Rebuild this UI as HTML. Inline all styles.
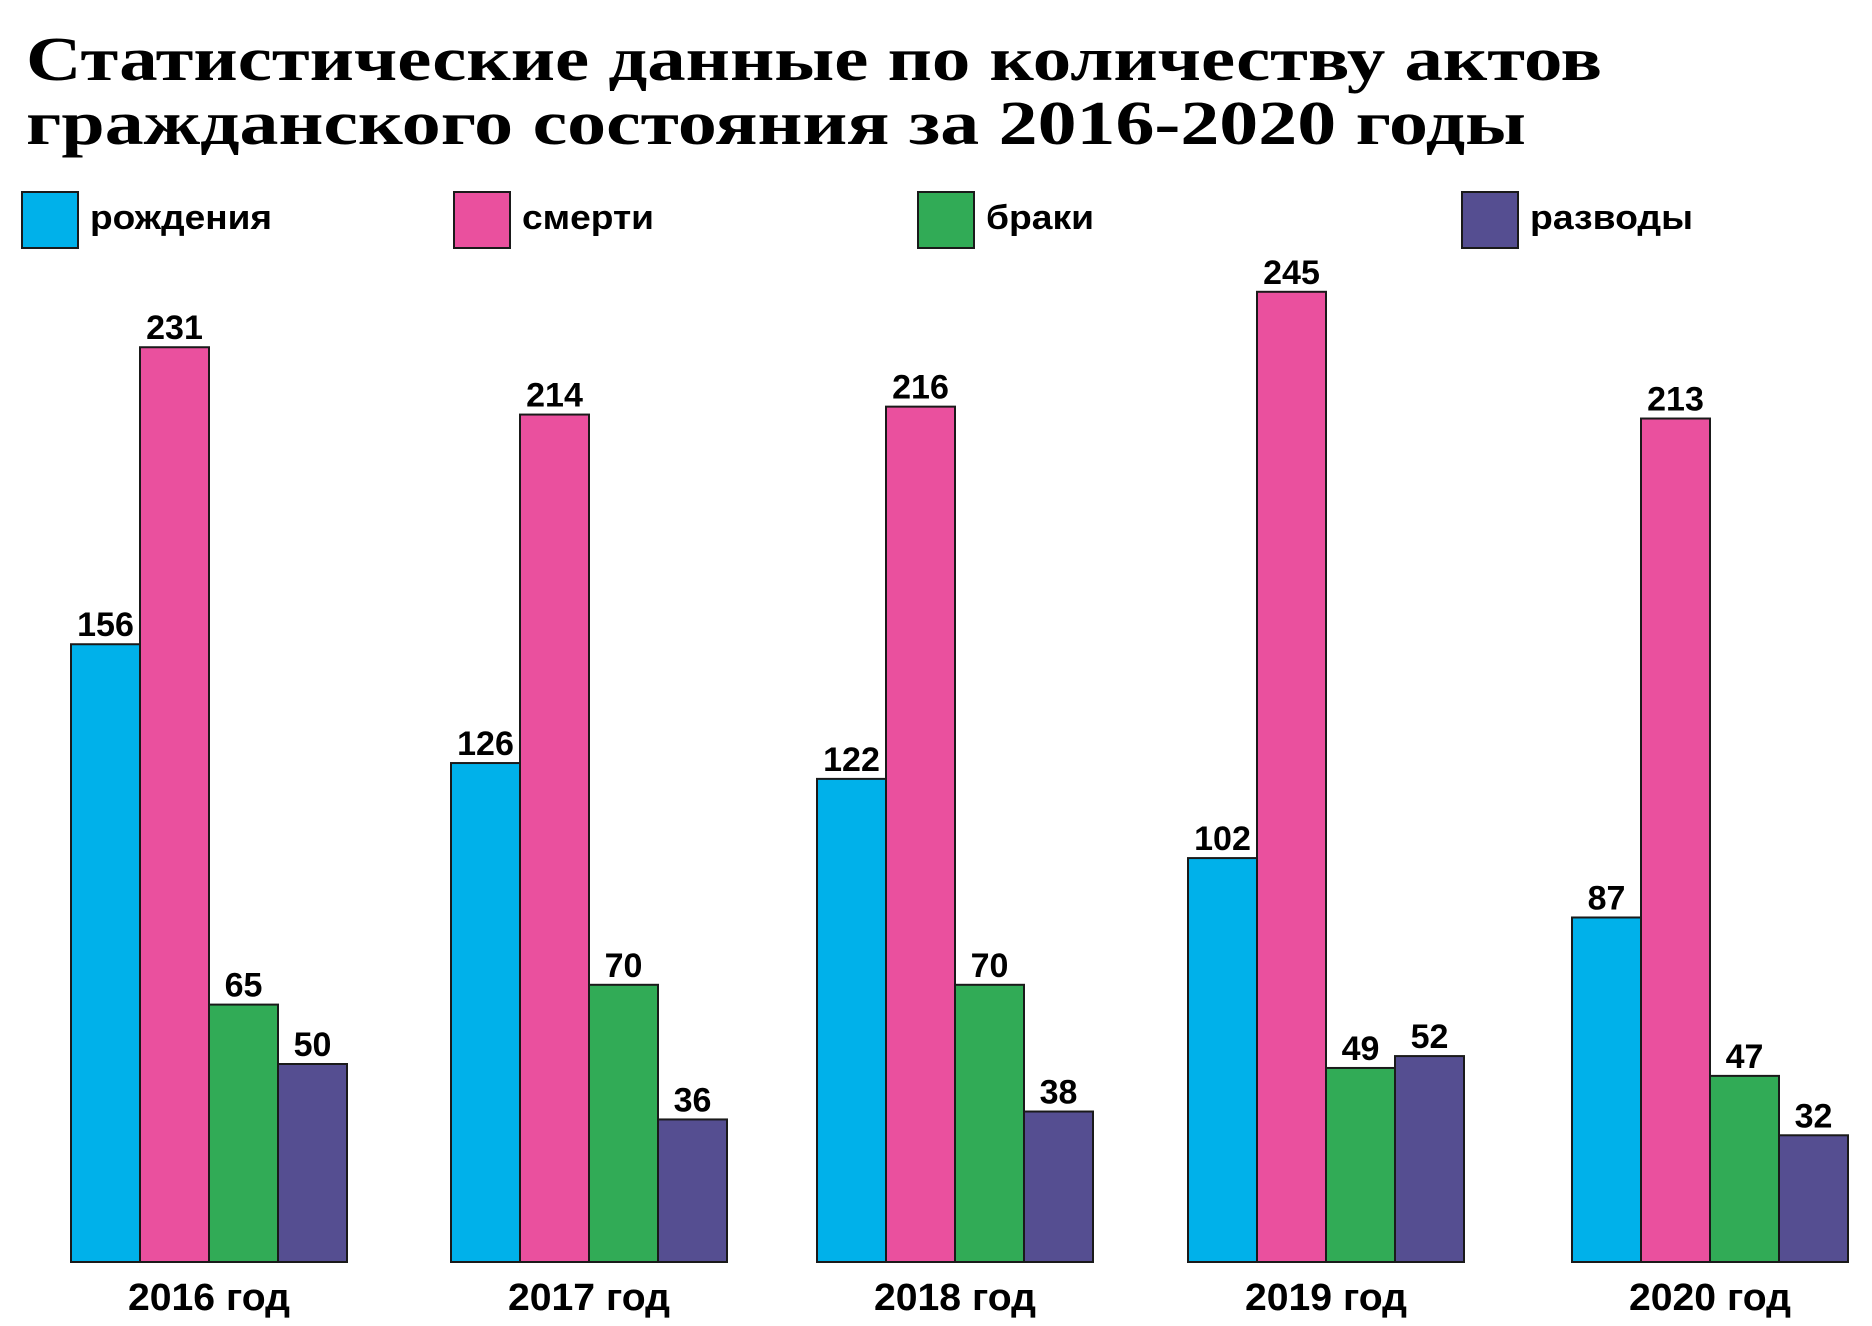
<!DOCTYPE html>
<html><head><meta charset="utf-8"><style>
html,body{margin:0;padding:0;background:#fff;}
svg{display:block;}
</style></head><body>
<svg id="chart" width="1872" height="1326" viewBox="0 0 1872 1326" xmlns="http://www.w3.org/2000/svg">
<g font-family="Liberation Serif, serif" font-weight="bold" font-size="62" fill="#000">
<text x="26" y="80" textLength="1576" lengthAdjust="spacingAndGlyphs">Статистические данные по количеству актов</text>
<text x="26" y="144" textLength="1500" lengthAdjust="spacingAndGlyphs">гражданского состояния за 2016-2020 годы</text>
</g>
<g id="legend"></g>
<g id="bars"></g>
</svg>
<script>
const categories = ["2016 год","2017 год","2018 год","2019 год","2020 год"];
const seriesNames = ["рождения","смерти","браки","разводы"];
const births = [156,126,122,102,87];
const deaths = [231,214,216,245,213];
const marriages = [65,70,70,49,47];
const divorces = [50,36,38,52,32];

const series = [births, deaths, marriages, divorces];
const colors = ["#00b1ea","#ea509e","#31ab56","#554e91"];
const NS = "http://www.w3.org/2000/svg";
const svg = document.getElementById('chart');
const barsG = document.getElementById('bars');
const legendG = document.getElementById('legend');
const baseline = 1262, pxPerUnit = 3.96, barW = 69;
const groupX = [71, 451, 817, 1188, 1572];
function y(v){ return baseline - v*pxPerUnit; }
function x(gi, si){ return groupX[gi] + si*barW; }
function mk(tag, attrs){ const e=document.createElementNS(NS,tag); for(const k in attrs) e.setAttribute(k, attrs[k]); return e; }

categories.forEach((cat, gi) => {
  const g = mk('g', {});
  
  
  series.forEach((arr, si) => {
    const v = arr[gi];
    const r = mk('rect', {x: x(gi,si), y: y(v), width: barW, height: v*pxPerUnit, fill: colors[si], stroke: '#1a1a1a', 'stroke-width': 2});
    
    
    g.appendChild(r);
    const t = mk('text', {x: x(gi,si) + barW/2, y: y(v) - 8, 'text-anchor': 'middle', 'font-family': 'Liberation Sans, sans-serif', 'font-weight': 'bold', 'font-size': 34, fill: '#000'});
    t.textContent = String(v);
    
    
    g.appendChild(t);
  });
  const c = mk('text', {x: groupX[gi] + barW*2, y: 1310, 'text-anchor': 'middle', 'font-family': 'Liberation Sans, sans-serif', 'font-weight': 'bold', 'font-size': 38, textLength: 162, lengthAdjust: 'spacingAndGlyphs', fill: '#000'});
  c.textContent = cat;
  
  
  g.appendChild(c);
  barsG.appendChild(g);
});

const legBoxX = [22, 454, 918, 1462];
const legTextW = [182, 132, 108, 163];
seriesNames.forEach((n, i) => {
  const g = mk('g', {});
  
  
  const r = mk('rect', {x: legBoxX[i], y: 192, width: 56, height: 56, fill: colors[i], stroke: '#1a1a1a', 'stroke-width': 2});
  
  
  g.appendChild(r);
  const t = mk('text', {x: legBoxX[i] + 68, y: 229, 'font-family': 'Liberation Sans, sans-serif', 'font-weight': 'bold', 'font-size': 34, textLength: legTextW[i], lengthAdjust: 'spacingAndGlyphs', fill: '#000'});
  t.textContent = n;
  
  
  g.appendChild(t);
  legendG.appendChild(g);
});
</script>
</body></html>
